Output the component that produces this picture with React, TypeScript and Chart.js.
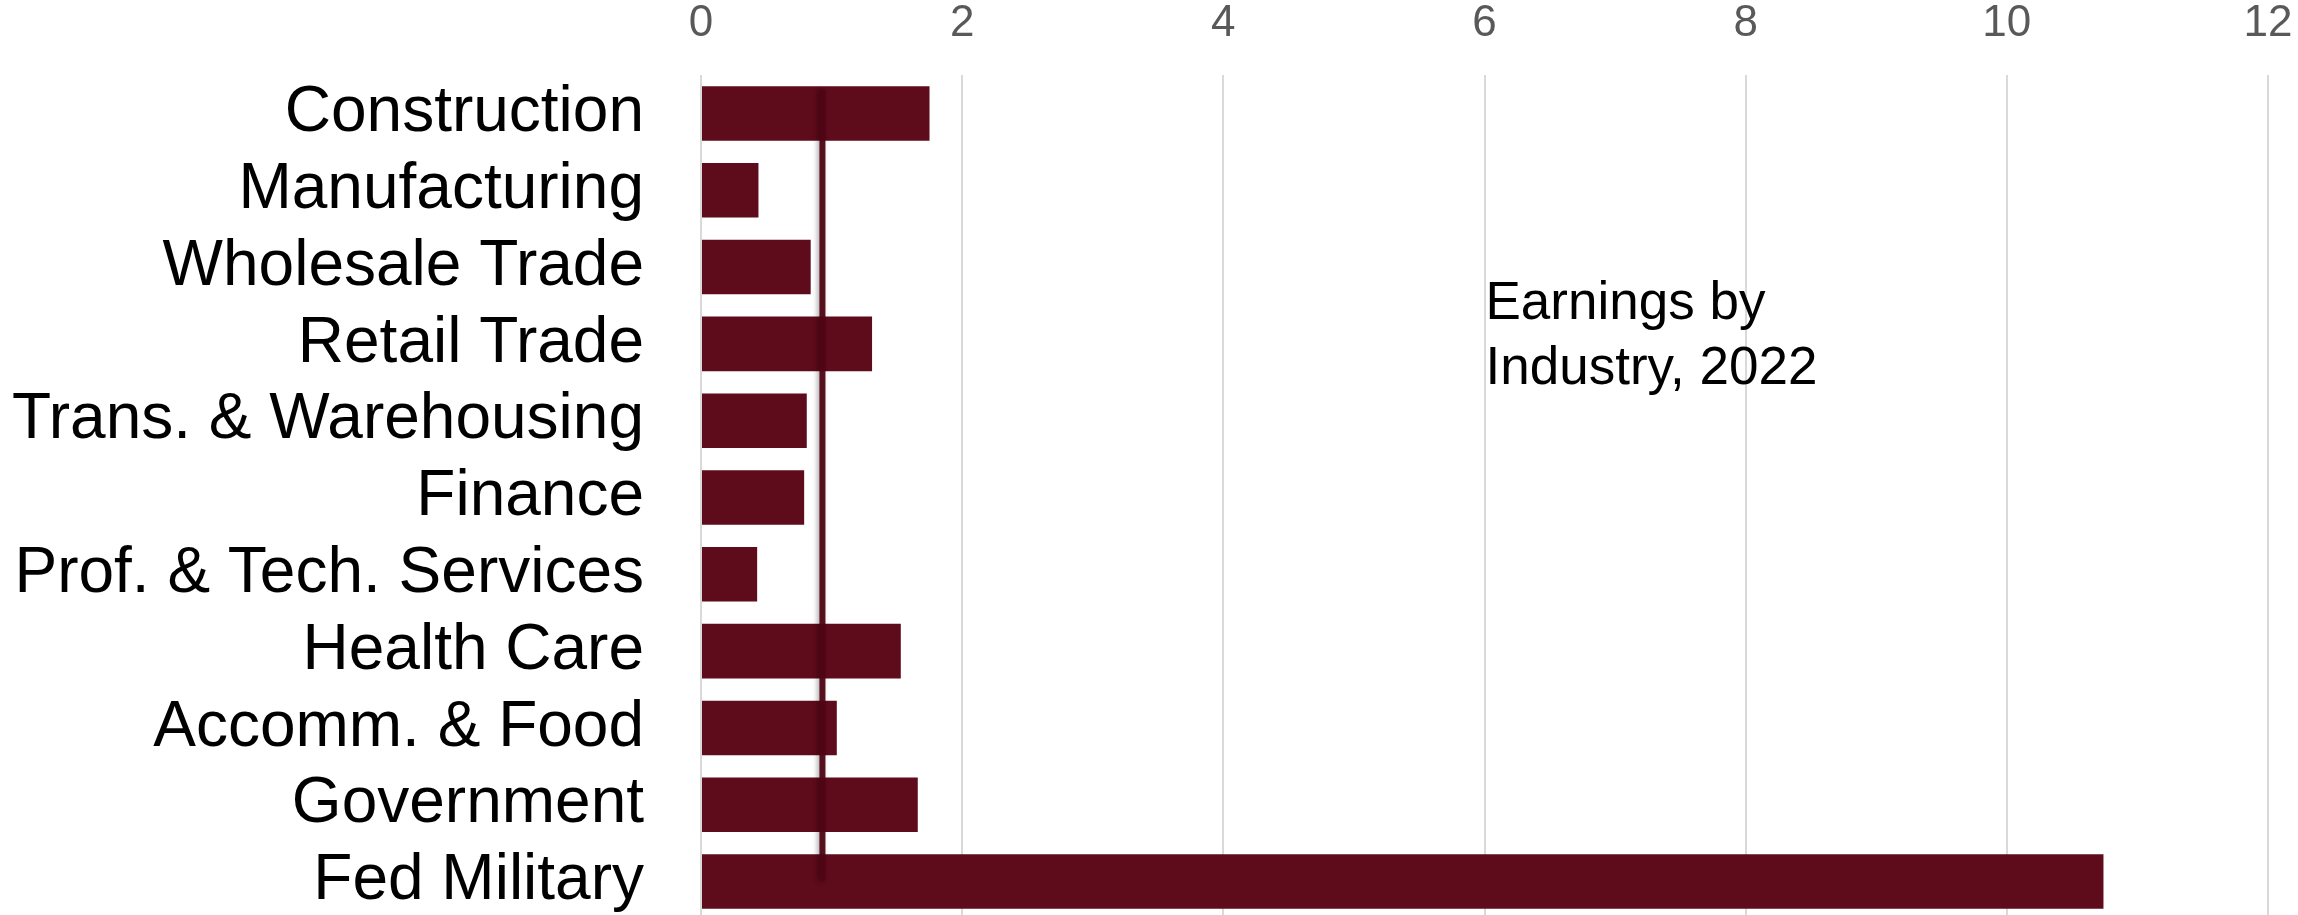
import React, { useEffect, useRef } from "react";
import { Chart, registerables } from "chart.js";

Chart.register(...registerables);

const categories: string[] = [
  "Construction",
  "Manufacturing",
  "Wholesale Trade",
  "Retail Trade",
  "Trans. & Warehousing",
  "Finance",
  "Prof. & Tech. Services",
  "Health Care",
  "Accomm. & Food",
  "Government",
  "Fed Military",
];

const earningsValues: number[] = [1.75, 0.44, 0.84, 1.31, 0.81, 0.79, 0.43, 1.53, 1.04, 1.66, 10.74];

const referenceValue = 0.93;
const referenceSpan: number[] = [-0.28, 9.96];

const xTicks: number[] = [0, 2, 4, 6, 8, 10, 12];

const annotationLines: string[] = ["Earnings by", "Industry, 2022"];
const annotationX = 6;

const FONT = "'Liberation Sans', Arial, sans-serif";

export default function App() {
  const canvasRef = useRef<HTMLCanvasElement | null>(null);

  useEffect(() => {
    const canvas = canvasRef.current;
    if (!canvas) return;

    const shadowPlugin = {
      id: "lineShadow",
      beforeDatasetDraw(chart: any, args: any) {
        if (args.index === 0) {
          const ctx = chart.ctx;
          ctx.save();
          ctx.shadowColor = "rgba(0,0,0,0.35)";
          ctx.shadowBlur = 5;
          ctx.shadowOffsetX = -2;
          ctx.shadowOffsetY = 0;
        }
      },
      afterDatasetDraw(chart: any, args: any) {
        if (args.index === 0) {
          chart.ctx.restore();
        }
      },
    };

    const annotationPlugin = {
      id: "annotationText",
      afterDraw(chart: any) {
        const ctx = chart.ctx;
        const xs = chart.scales.x;
        const area = chart.chartArea;
        ctx.save();
        ctx.fillStyle = "#000000";
        ctx.font = `53px ${FONT}`;
        ctx.textAlign = "left";
        ctx.textBaseline = "alphabetic";
        const x = xs.getPixelForValue(annotationX) + 1;
        annotationLines.forEach((line, i) => {
          ctx.fillText(line, x, area.top + 244 + i * 65);
        });
        ctx.restore();
      },
    };

    const chart = new Chart(canvas, {
      type: "bar",
      data: {
        labels: categories,
        datasets: [
          {
            type: "line",
            label: "Reference",
            data: referenceSpan.map((y) => ({ x: referenceValue, y })),
            xAxisID: "x",
            yAxisID: "y2",
            borderColor: "rgba(80,5,20,0.95)",
            borderWidth: 6,
            borderCapStyle: "round",
            pointRadius: 0,
            fill: false,
            order: 0,
          } as any,
          {
            type: "bar",
            label: "Earnings",
            data: earningsValues,
            xAxisID: "x",
            yAxisID: "y",
            backgroundColor: "#5E0B1B",
            borderWidth: 0,
            barPercentage: 0.71,
            categoryPercentage: 1,
            grouped: false,
            order: 1,
          } as any,
        ],
      },
      options: {
        indexAxis: "y",
        responsive: false,
        animation: false,
        layout: { padding: { left: 0, right: 30, top: 0, bottom: 0 } },
        plugins: {
          legend: { display: false },
          tooltip: { enabled: false },
          title: { display: false },
        },
        scales: {
          x: {
            type: "linear",
            position: "top",
            min: 0,
            max: 12,
            afterBuildTicks: (scale: any) => {
              scale.ticks = xTicks.map((v) => ({ value: v }));
            },
            afterFit: (scale: any) => {
              scale.height = 75;
              scale.paddingLeft = 0;
              scale.paddingRight = 0;
              scale.paddingTop = 0;
              scale.paddingBottom = 0;
            },
            ticks: {
              stepSize: 2,
              padding: 25,
              color: "#595959",
              font: { family: FONT, size: 44 },
            },
            grid: {
              color: "#d9d9d9",
              lineWidth: 2,
              drawTicks: false,
            },
            border: { display: false },
          },
          y: {
            type: "category",
            position: "left",
            afterFit: (scale: any) => {
              scale.width = 701;
              scale.paddingLeft = 0;
              scale.paddingRight = 0;
              scale.paddingTop = 0;
              scale.paddingBottom = 0;
            },
            ticks: {
              padding: 57,
              autoSkip: false,
              color: "#000000",
              font: { family: FONT, size: 64 },
            },
            grid: { display: false, drawTicks: false },
            border: { display: false },
          },
          y2: {
            type: "linear",
            display: false,
            offset: false,
            min: -0.5,
            max: 10.5,
            reverse: true,
            grid: { offset: false },
          },
        },
      } as any,
      plugins: [shadowPlugin, annotationPlugin],
    });

    return () => {
      chart.destroy();
    };
  }, []);

  return (
    <div
      style={{
        position: "fixed",
        left: 0,
        top: 0,
        width: 2298,
        height: 915,
        overflow: "hidden",
        background: "#ffffff",
      }}
    >
      <canvas
        ref={canvasRef}
        width={2298}
        height={920}
        style={{ display: "block", width: 2298, height: 920 }}
      />
    </div>
  );
}
